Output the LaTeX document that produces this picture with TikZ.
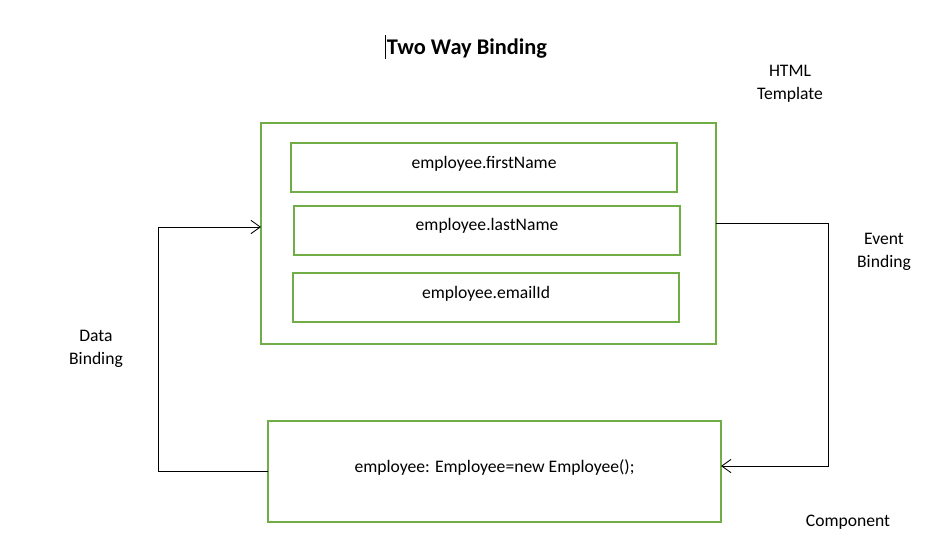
\documentclass[tikz,border=0pt]{standalone}
\usepackage{fontspec}
\setmainfont{Carlito}
\usetikzlibrary{arrows.meta}

\definecolor{bindgreen}{HTML}{70AD47}

\tikzset{
	greenbox/.style = {draw = bindgreen, line width = 1.5pt, rectangle, inner sep = 0pt, outer sep = 0pt},
	bindline/.style = {draw = black, line width = 0.65pt},
	bindarrow/.style = {bindline, -{Straight Barb[length = 7pt, width = 10pt, line width = 0.65pt]}},
	plaintext/.style = {font = \fontsize{13.2pt}{17.25pt}\selectfont, align = center, inner sep = 0pt}
}

\begin{document}
\begin{tikzpicture}[x = 0.75pt, y = -0.75pt]
		\pgfmathsetmacro\px{0.75}
		\useasboundingbox (0,0) rectangle (925,543);

		% title with cursor
		\node[font = \fontsize{16.8pt}{20pt}\selectfont\bfseries, inner sep = 0pt] (title) at (467,49) {Two Way Binding};
		\draw[line width = 0.6pt] (385,35) -- (385,59);

		% html template box and its fields
		\node[greenbox, minimum width = 455*\px pt, minimum height = 221*\px pt] (tmpl) at (488.5,233.5) {};
		\foreach \name / \cx / \cy / \txt in {%
			first/484/167.5/employee.firstName,
			last/487/230/employee.lastName,
			email/486/297.5/employee.emailId%
		}{
			\node[greenbox, minimum width = 386*\px pt, minimum height = 49*\px pt] (\name) at (\cx,\cy) {};
			\node[plaintext] (\name txt) at ([yshift = 3pt]\name.center) {\txt};
		}

		% component box
		\node[greenbox, minimum width = 453*\px pt, minimum height = 101*\px pt] (comp) at (494.5,471.5) {};
		\node[plaintext] (comptxt) at ([yshift = 3pt]comp.center) {employee: Employee=new Employee();};

		% side labels
		\node[plaintext] (tmpllabel) at (790,83.5) {HTML\\Template};
		\node[plaintext] (eventlabel) at (884,251.5) {Event\\Binding};
		\node[plaintext] (datalabel) at (96,348.5) {Data\\Binding};
		\node[plaintext] (complabel) at (848,522) {Component};

		% bindings
		\coordinate (eventtop) at (828,223);
		\coordinate (datatop) at (158,227);
		\draw[bindarrow] (tmpl.east |- eventtop) -- (eventtop) |- ([yshift = 4.1pt]comp.east);
		\draw[bindarrow] (comp.west) -| (datatop) -- (tmpl.west |- datatop);

	\end{tikzpicture}
\end{document}
